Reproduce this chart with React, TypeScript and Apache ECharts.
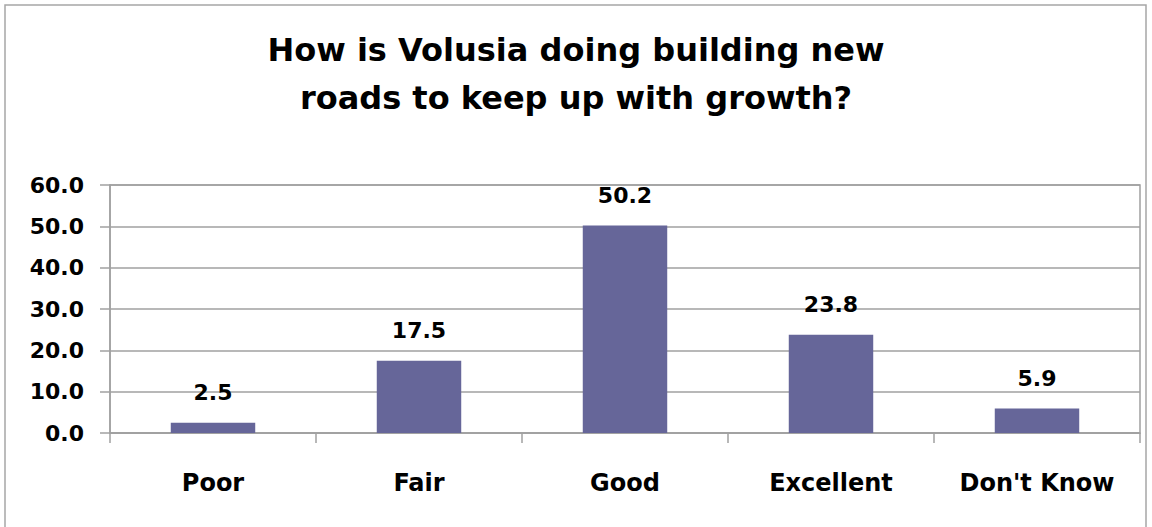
import React, { useEffect, useRef } from "react";
import * as echarts from "echarts";

const categories = ["Poor", "Fair", "Good", "Excellent", "Don't Know"];
const values = [2.5, 17.5, 50.2, 23.8, 5.9];
const titleText = "How is Volusia doing building new\nroads to keep up with growth?";

export default function App() {
  const ref = useRef<HTMLDivElement>(null);
  useEffect(() => {
    if (!ref.current) return;
    const chart = echarts.init(ref.current, undefined, { renderer: "svg" });
    const font = "'DejaVu Sans', 'Liberation Sans', Arial, sans-serif";
    chart.setOption({
      animation: false,
      backgroundColor: "#ffffff",
      title: {
        text: titleText,
        left: "center",
        top: 21,
        textStyle: {
          fontFamily: font,
          fontWeight: "bold",
          fontSize: 32,
          lineHeight: 48,
          color: "#000",
        },
      },
      graphic: [
        {
          type: "rect",
          shape: { x: 5, y: 5, width: 1141, height: 540 },
          style: { fill: "none", stroke: "#a6a6a6", lineWidth: 1.5 },
          silent: true,
        },
      ],
      grid: {
        left: 110,
        right: 12,
        top: 185,
        bottom: 94,
        show: true,
        borderColor: "#a0a0a0",
        borderWidth: 1.5,
        containLabel: false,
      },
      xAxis: {
        type: "category",
        data: categories,
        axisLine: { lineStyle: { color: "#a0a0a0", width: 1.5 } },
        axisTick: { show: true, alignWithLabel: false, length: 10, lineStyle: { color: "#a0a0a0", width: 1.5 } },
        axisLabel: {
          margin: 38,
          fontFamily: font,
          fontWeight: "bold",
          fontSize: 24,
          color: "#000",
        },
      },
      yAxis: {
        type: "value",
        min: 0,
        max: 60,
        interval: 10,
        axisLine: { show: true, lineStyle: { color: "#a0a0a0", width: 1.5 } },
        axisTick: { show: true, length: 10, lineStyle: { color: "#a0a0a0", width: 1.5 } },
        splitLine: { show: true, lineStyle: { color: "#a0a0a0", width: 1.5 } },
        axisLabel: {
          margin: 26,
          formatter: (v: number) => v.toFixed(1),
          fontFamily: font,
          fontWeight: "bold",
          fontSize: 22,
          color: "#000",
        },
      },
      series: [
        {
          type: "bar",
          data: values,
          barWidth: "41%",
          itemStyle: { color: "#666699" },
          label: {
            show: true,
            position: "top",
            distance: 19,
            formatter: (p: any) => Number(p.value).toFixed(1),
            fontFamily: font,
            fontWeight: "bold",
            fontSize: 22,
            color: "#000",
          },
        },
      ],
    });
    return () => chart.dispose();
  }, []);
  return <div ref={ref} style={{ width: 1152, height: 527, position: "fixed", left: 0, top: 0 }} />;
}
